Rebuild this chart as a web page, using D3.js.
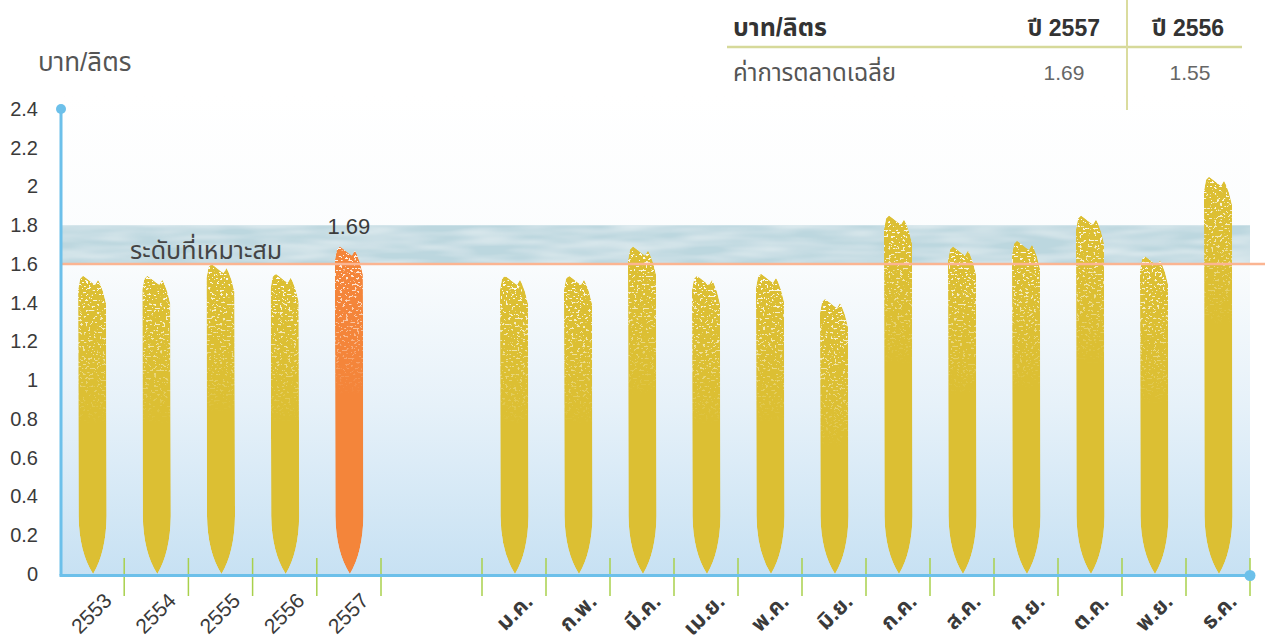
<!DOCTYPE html>
<html><head><meta charset="utf-8">
<script src="https://cdn.jsdelivr.net/npm/d3@7"></script>
<style>
html,body{margin:0;padding:0;background:#fff;}
svg{display:block;font-family:"Liberation Sans","Noto Sans Thai","Noto Sans",sans-serif;}
</style></head>
<body><svg id="c" width="1265" height="641"></svg>
<script>
// ---- data ----
const yearCats = ["2553","2554","2555","2556","2557"];
const yearValues = [1.54,1.54,1.60,1.55,1.69];
const monthCats = ["ม.ค.","ก.พ.","มี.ค.","เม.ย.","พ.ค.","มิ.ย.","ก.ค.","ส.ค.","ก.ย.","ต.ค.","พ.ย.","ธ.ค."];
const monthValues = [1.54,1.54,1.69,1.54,1.55,1.42,1.85,1.69,1.72,1.85,1.64,2.05];
const yTicks = [0,0.2,0.4,0.6,0.8,1,1.2,1.4,1.6,1.8,2,2.2,2.4];
const bandRange = [1.6,1.8];
const bandLabel = "ระดับที่เหมาะสม";
const highlightYear = "2557";
const yTitle = "บาท/ลิตร";
const tableHeader = ["บาท/ลิตร","ปี 2557","ปี 2556"];
const tableRow = ["ค่าการตลาดเฉลี่ย","1.69","1.55"];

// ---- layout ----
const svg = d3.select("#c");
const X0 = 61, X1 = 1250;
const y = d3.scaleLinear().domain([0,2.4]).range([574,109]);
const xYear = d3.scaleBand().domain(yearCats).range([60,381]);
const xMonth = d3.scaleBand().domain(monthCats).range([482,1250]);

const defs = svg.append("defs");
const bg = defs.append("linearGradient").attr("id","bgGrad").attr("x1",0).attr("y1",0).attr("x2",0).attr("y2",1);
bg.append("stop").attr("offset","0%").attr("stop-color","#ffffff");
bg.append("stop").attr("offset","35%").attr("stop-color","#fafcfd");
bg.append("stop").attr("offset","65%").attr("stop-color","#e6f1f9");
bg.append("stop").attr("offset","100%").attr("stop-color","#c7e1f3");

const sg = defs.append("linearGradient").attr("id","speckGrad").attr("x1",0).attr("y1",0).attr("x2",0).attr("y2",1);
sg.append("stop").attr("offset","0%").attr("stop-color","#fff").attr("stop-opacity",1);
sg.append("stop").attr("offset","45%").attr("stop-color","#fff").attr("stop-opacity",0.6);
sg.append("stop").attr("offset","100%").attr("stop-color","#fff").attr("stop-opacity",0);

const f = defs.append("filter").attr("id","speckle").attr("x",0).attr("y",0).attr("width",1).attr("height",1);
f.append("feTurbulence").attr("type","fractalNoise").attr("baseFrequency","0.35 0.5").attr("numOctaves",2).attr("seed",5).attr("result","noise");
f.append("feColorMatrix").attr("in","noise").attr("type","matrix")
 .attr("values","0 0 0 0 1  0 0 0 0 1  0 0 0 0 1  22 0 0 0 -13.5").attr("result","dots");
f.append("feComposite").attr("in","dots").attr("in2","SourceGraphic").attr("operator","in");

const bf = defs.append("filter").attr("id","bandTex").attr("x",0).attr("y",0).attr("width",1).attr("height",1);
bf.append("feTurbulence").attr("type","fractalNoise").attr("baseFrequency","0.015 0.1").attr("numOctaves",2).attr("seed",2).attr("result","n");
bf.append("feColorMatrix").attr("in","n").attr("type","matrix")
 .attr("values","0 0 0 0 1  0 0 0 0 1  0 0 0 0 1  0.8 0 0 0 -0.25").attr("result","w");
bf.append("feComposite").attr("in","w").attr("in2","SourceGraphic").attr("operator","in").attr("result","wm");
bf.append("feMerge").call(m=>{m.append("feMergeNode").attr("in","SourceGraphic");m.append("feMergeNode").attr("in","wm");});

// background
svg.append("rect").attr("x",X0).attr("y",95).attr("width",X1-X0).attr("height",y(0)-95+1).attr("fill","url(#bgGrad)");
// band
svg.append("rect").attr("x",X0).attr("y",y(bandRange[1])).attr("width",X1-X0)
  .attr("height",y(bandRange[0])-y(bandRange[1])).attr("fill","#bcd7df").attr("filter","url(#bandTex)");

// bars
function barPath(cx, top, base){
  const w = 28, L = cx - w/2, R = cx + w/2;
  const p = d3.path();
  p.moveTo(L, top+14);
  p.lineTo(L+2, top+3);
  p.lineTo(L+5, top);
  p.lineTo(L+9, top+3);
  p.lineTo(L+14, top+7);
  p.lineTo(L+17, top+9);
  p.lineTo(L+20, top+4);
  p.lineTo(L+22, top+8);
  p.lineTo(L+25, top+16);
  p.lineTo(R, top+28);
  p.lineTo(R+0.5, base-58);
  p.quadraticCurveTo(R, base-22, cx+1, base);
  p.quadraticCurveTo(L+1, base-22, L+0.5, base-58);
  p.closePath();
  return p.toString();
}
const bars = yearCats.map((c,i)=>({cx:xYear(c)+xYear.bandwidth()/2, v:yearValues[i], hl:c===highlightYear}))
  .concat(monthCats.map((c,i)=>({cx:xMonth(c)+xMonth.bandwidth()/2, v:monthValues[i], hl:false})));
bars.forEach((b,i)=>{
  const d = barPath(b.cx, y(b.v), y(0));
  defs.append("clipPath").attr("id","bc"+i).append("path").attr("d",d);
  const g = svg.append("g").attr("clip-path","url(#bc"+i+")");
  g.append("path").attr("d",d).attr("fill", b.hl ? "#f4853a" : "#dcbf33");
  g.append("rect").attr("x",b.cx-20).attr("y",y(b.v)-2).attr("width",40).attr("height",150)
    .attr("fill","url(#speckGrad)").attr("filter","url(#speckle)");
});

// 1.6 line
svg.append("line").attr("x1",X0).attr("x2",1265).attr("y1",y(bandRange[0])).attr("y2",y(bandRange[0]))
  .attr("stroke","#fbb592").attr("stroke-width",2.5);

// band label & value label
svg.append("text").attr("x",130).attr("y",259).attr("font-size",25).attr("fill","#444").text(bandLabel);
svg.append("text").attr("x",xYear(highlightYear)+xYear.bandwidth()/2).attr("y",234).attr("text-anchor","middle")
  .attr("font-size",22).attr("fill","#3c3c3c").text(d3.format(".2f")(yearValues[yearCats.indexOf(highlightYear)]));

// ticks (green)
const tickXs = yearCats.map(c=>xYear(c)+xYear.bandwidth()).concat(monthCats.map(c=>xMonth(c)), [xMonth.range()[1]]);
svg.selectAll("line.tk").data(tickXs).join("line").attr("class","tk")
  .attr("x1",d=>d).attr("x2",d=>d).attr("y1",558).attr("y2",596).attr("stroke","#a8d04c").attr("stroke-width",1.5);

// axes
svg.append("line").attr("x1",X0).attr("x2",X0).attr("y1",y(2.4)).attr("y2",y(0)+1.5).attr("stroke","#6cc0ea").attr("stroke-width",3);
svg.append("line").attr("x1",X0-1.5).attr("x2",X1).attr("y1",y(0)+1.5).attr("y2",y(0)+1.5).attr("stroke","#6cc0ea").attr("stroke-width",3);
svg.append("circle").attr("cx",X0).attr("cy",y(2.4)).attr("r",5).attr("fill","#6cc0ea");
svg.append("circle").attr("cx",X1).attr("cy",y(0)+1.5).attr("r",5.5).attr("fill","#6cc0ea");

// y labels
const ya = svg.append("g").attr("transform","translate(38,0)")
  .call(d3.axisLeft(y).tickValues(yTicks).tickSize(0).tickPadding(0).tickFormat(d=>String(d)));
ya.select(".domain").remove();
ya.selectAll("text").attr("font-size",20).attr("fill","#3a3a3a").attr("font-family","Liberation Sans, sans-serif");
svg.append("text").attr("x",38).attr("y",71).attr("font-size",26).attr("fill","#555").text(yTitle);

// x labels
svg.selectAll("text.xy").data(yearCats).join("text").attr("class","xy")
  .attr("transform",d=>`translate(${xYear(d)+xYear.bandwidth()/2+21},602) rotate(-45)`)
  .attr("text-anchor","end").attr("font-size",21).attr("fill","#3a3a3a").text(d=>d);
svg.selectAll("text.xm").data(monthCats).join("text").attr("class","xm")
  .attr("transform",d=>`translate(${xMonth(d)+xMonth.bandwidth()/2+20},603) rotate(-45)`)
  .attr("text-anchor","end").attr("font-size",22).attr("font-weight","bold").attr("fill","#3a3a3a").text(d=>d);

// table
svg.append("line").attr("x1",727).attr("x2",1242).attr("y1",47).attr("y2",47).attr("stroke","#d6d99a").attr("stroke-width",2.5);
svg.append("line").attr("x1",1127).attr("x2",1127).attr("y1",0).attr("y2",110).attr("stroke","#dadc9e").attr("stroke-width",2);
svg.append("text").attr("x",733).attr("y",36).attr("font-size",25).attr("font-weight","bold").attr("fill","#333").text(tableHeader[0]);
svg.append("text").attr("x",1100).attr("y",36).attr("text-anchor","end").attr("font-size",23).attr("font-weight","bold").attr("fill","#333").text(tableHeader[1]);
svg.append("text").attr("x",1152).attr("y",36).attr("font-size",23).attr("font-weight","bold").attr("fill","#333").text(tableHeader[2]);
svg.append("text").attr("x",733).attr("y",81).attr("font-size",24).attr("fill","#555").text(tableRow[0]);
svg.append("text").attr("x",1064).attr("y",80).attr("text-anchor","middle").attr("font-size",21).attr("fill","#666").text(tableRow[1]);
svg.append("text").attr("x",1190).attr("y",80).attr("text-anchor","middle").attr("font-size",21).attr("fill","#666").text(tableRow[2]);
</script></body></html>
